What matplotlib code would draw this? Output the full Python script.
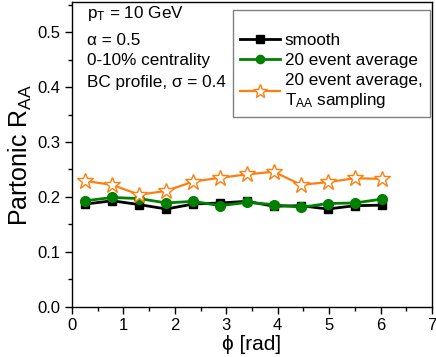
import numpy as np
import matplotlib
matplotlib.use("Agg")
import matplotlib.pyplot as plt
from matplotlib.ticker import MultipleLocator

plt.rcParams['font.family'] = ['Liberation Sans', 'DejaVu Sans']
plt.rcParams['mathtext.default'] = 'regular'

# data
phi = [0.262, 0.785, 1.309, 1.833, 2.356, 2.880, 3.403, 3.927, 4.451, 4.974, 5.498, 6.021]
smooth = [0.187, 0.193, 0.186, 0.178, 0.187, 0.189, 0.192, 0.183, 0.184, 0.178, 0.184, 0.185]
avg20 = [0.193, 0.199, 0.197, 0.189, 0.192, 0.184, 0.190, 0.186, 0.181, 0.188, 0.189, 0.196]
avg20_taa = [0.229, 0.222, 0.204, 0.211, 0.228, 0.235, 0.241, 0.246, 0.222, 0.227, 0.234, 0.233]

fig = plt.figure(figsize=(4.36, 3.57), dpi=100)
ax = fig.add_axes([0.165, 0.141, 0.826, 0.853])

ax.plot(phi, smooth, color="black", lw=2, marker="s", ms=6, label="smooth")
ax.plot(phi, avg20, color="#008000", lw=2, marker="o", ms=7, label="20 event average")
ax.plot(phi, avg20_taa, color="#FF7F0E", lw=1.6, marker="*", ms=12,
        markerfacecolor="white", markeredgewidth=1.0,
        label="20 event average,\nT$_{AA}$ sampling")

ax.set_xlim(0, 7)
ax.set_ylim(0, 0.555)
ax.xaxis.set_major_locator(MultipleLocator(1))
ax.xaxis.set_minor_locator(MultipleLocator(0.5))
ax.yaxis.set_major_locator(MultipleLocator(0.1))
ax.yaxis.set_minor_locator(MultipleLocator(0.05))
ax.yaxis.set_major_formatter(matplotlib.ticker.FormatStrFormatter("%.1f"))
ax.tick_params(which="both", direction="out", top=False, right=False, labelsize=12)
ax.tick_params(which="major", length=5, width=1)
ax.tick_params(which="minor", length=3, width=1)
for s in ax.spines.values():
    s.set_linewidth(1)

ax.set_xlabel("ϕ [rad]", fontsize=15, labelpad=1)
ax.set_ylabel("Partonic R$_{AA}$", fontsize=18, labelpad=2)

ax.text(0.042, 0.964, "p$_T$ = 10 GeV", transform=ax.transAxes, fontsize=12.3, va="center")
ax.text(0.042, 0.875, "α = 0.5", transform=ax.transAxes, fontsize=12.3, va="center")
ax.text(0.042, 0.81, "0-10% centrality", transform=ax.transAxes, fontsize=12.3, va="center")
ax.text(0.042, 0.737, "BC profile, σ = 0.4", transform=ax.transAxes, fontsize=12.3, va="center")

leg = ax.legend(loc="upper right", bbox_to_anchor=(0.995, 0.975), borderaxespad=0,
                fontsize=12.3, fancybox=False, edgecolor="gray", framealpha=1,
                handlelength=2.3, handletextpad=0.3, labelspacing=0.3, borderpad=0.45,
                title=" ", title_fontsize=8, markerscale=0.85)
leg.get_frame().set_linewidth(1)

fig.savefig("out.png", dpi=100)
